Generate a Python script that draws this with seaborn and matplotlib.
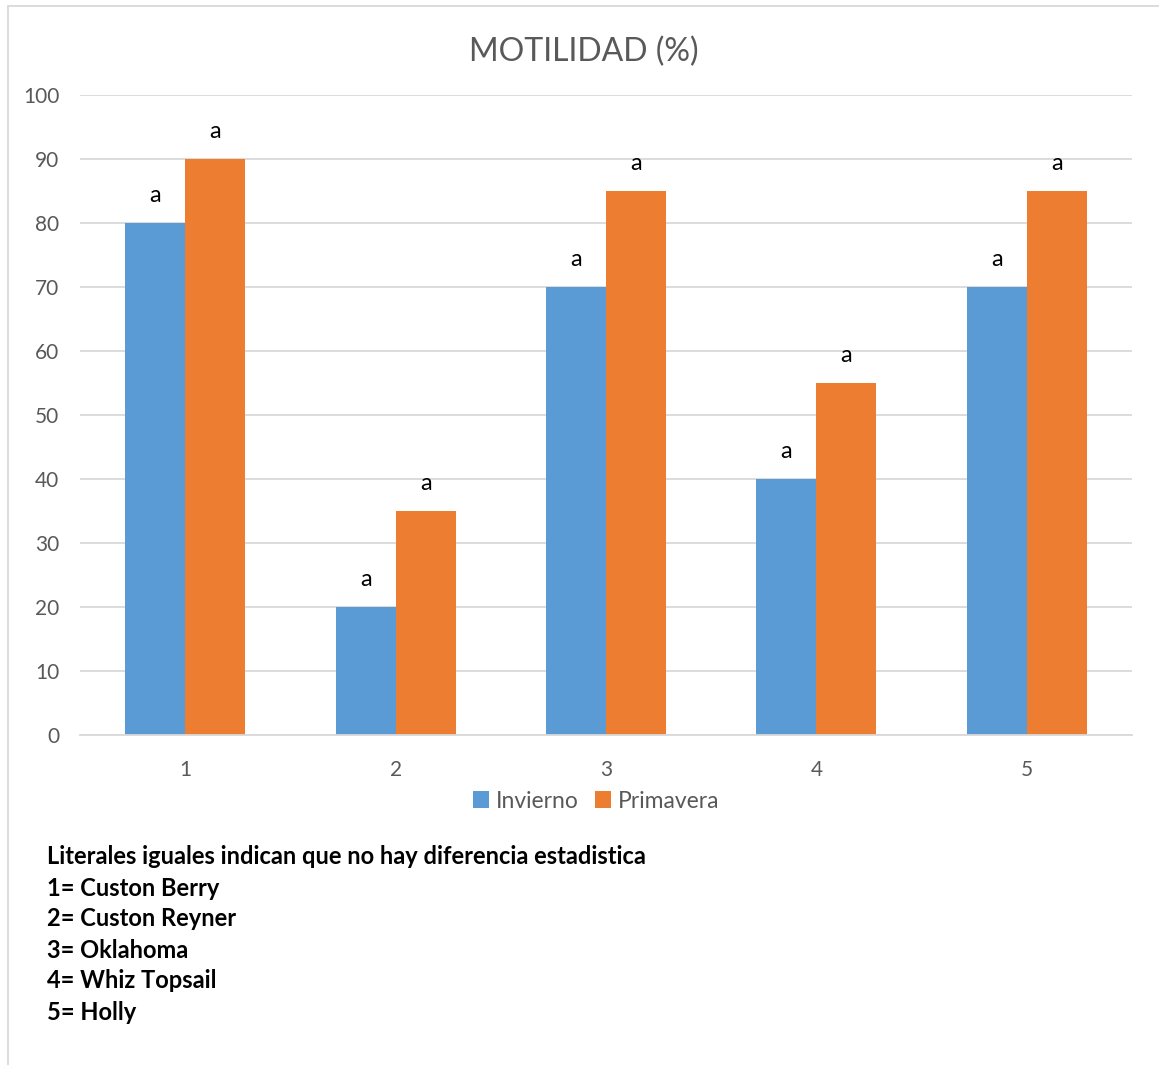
import matplotlib
matplotlib.use("Agg")
import matplotlib.pyplot as plt
from matplotlib.lines import Line2D
from matplotlib.patches import Patch
import seaborn as sns
import pandas as pd

# Motility (%) per variety and season
categories = ["1", "2", "3", "4", "5"]
invierno = [80, 20, 70, 40, 70]
primavera = [90, 35, 85, 55, 85]
letras_invierno = ["a", "a", "a", "a", "a"]
letras_primavera = ["a", "a", "a", "a", "a"]
series = ["Invierno", "Primavera"]
notas = [
    "Literales iguales indican que no hay diferencia estadistica",
    "1= Custon Berry",
    "2= Custon Reyner",
    "3= Oklahoma",
    "4= Whiz Topsail",
    "5= Holly",
]

df = pd.DataFrame({
    "cat": categories * 2,
    "valor": invierno + primavera,
    "serie": [series[0]] * len(categories) + [series[1]] * len(categories),
})

sns.set_theme(style="white")
plt.rcParams["font.family"] = ["Lato", "DejaVu Sans"]

colors = ["#5B9BD5", "#ED7D31"]
grey = "#595959"

fig = plt.figure(figsize=(11.59, 10.65), dpi=100)
ax = fig.add_axes([80 / 1159, 1 - 735 / 1065, 1052 / 1159, 640 / 1065])

sns.barplot(data=df, x="cat", y="valor", hue="serie", palette=colors,
            width=0.57, gap=0, saturation=1, ax=ax, legend=False,
            edgecolor="none", linewidth=0)

ax.set_ylim(0, 100)
ax.set_xlim(-0.5, len(categories) - 0.5)
ax.set_yticks(range(0, 101, 10))
ax.yaxis.grid(True, color="#D9D9D9", linewidth=1.3)
ax.set_axisbelow(True)
for s in ["top", "right", "left"]:
    ax.spines[s].set_visible(False)
ax.spines["bottom"].set_color("#D9D9D9")
ax.spines["bottom"].set_linewidth(1.3)
ax.tick_params(axis="both", length=0, labelsize=15, labelcolor=grey)
ax.tick_params(axis="y", pad=15)
ax.tick_params(axis="x", pad=18)
ax.set_xlabel("")
ax.set_ylabel("")

# significance letters above each bar
for cont, letras in zip(ax.containers, [letras_invierno, letras_primavera]):
    for bar, letra in zip(cont, letras):
        ax.annotate(letra, (bar.get_x() + bar.get_width() / 2, bar.get_height()),
                    xytext=(0, 12), textcoords="offset points",
                    ha="center", va="bottom", fontsize=17, color="black")

fig.text(584 / 1159, 1 - 52 / 1065, "MOTILIDAD (%)", ha="center", va="center",
         fontsize=23, color=grey)

handles = [Patch(facecolor=c, edgecolor="none") for c in colors]
fig.legend(handles, series, loc="center", bbox_to_anchor=(596 / 1159, 1 - 801 / 1065),
           ncol=2, frameon=False, fontsize=16.5, labelcolor=grey,
           handlelength=0.7, handleheight=0.7, handletextpad=0.3, columnspacing=0.7)

for i, t in enumerate(notas):
    fig.text(47 / 1159, 1 - (857 + 31 * i) / 1065, t, ha="left", va="center",
             fontsize=17, fontweight="bold", color="black")

# outer frame lines (left and top)
fig.add_artist(Line2D([8 / 1159, 8 / 1159], [0, 1 - 6 / 1065], transform=fig.transFigure,
                      color="#D9D9D9", linewidth=1.3))
fig.add_artist(Line2D([8 / 1159, 1], [1 - 6 / 1065, 1 - 6 / 1065], transform=fig.transFigure,
                      color="#D9D9D9", linewidth=1.3))

fig.savefig("out.png", dpi=100, facecolor="white")
